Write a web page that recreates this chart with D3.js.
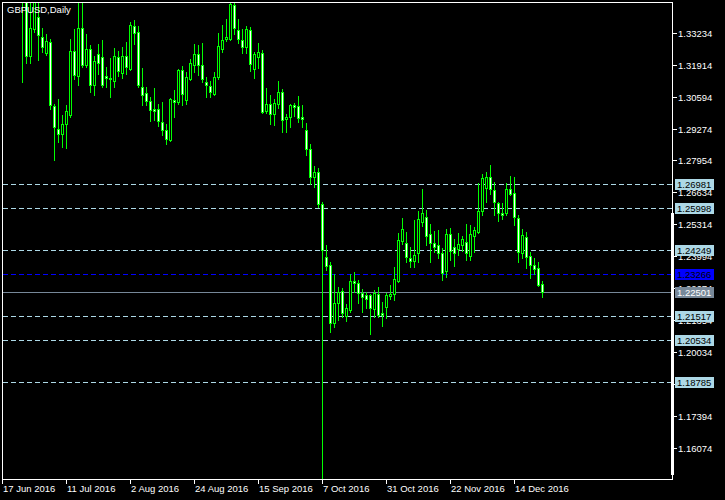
<!DOCTYPE html>
<html><head><meta charset="utf-8">
<script src="https://cdn.jsdelivr.net/npm/d3@7"></script>
<style>body{margin:0;background:#000;}svg{display:block;}</style>
</head><body>
<svg id="chart" width="725" height="500"></svg>
<script>
// GBPUSD Daily, 17 Jun 2016 .. 23 Dec 2016 (one value per trading day)
const openP = [1.4210,1.4550,1.4680,1.4690,1.4720,1.4877,1.3640,1.3226,1.3340,1.3388,
1.3306,1.3241,1.3285,1.3019,1.2927,1.2904,1.2945,1.2985,1.3247,1.3145,
1.3343,1.3189,1.3255,1.3109,1.3234,1.3223,1.3145,1.3136,1.3123,1.3223,
1.3158,1.3227,1.3175,1.3351,1.3326,1.3099,1.3076,1.3041,1.3009,1.3007,
1.2954,1.2920,1.2879,1.3047,1.3037,1.3168,1.3044,1.3133,1.3191,1.3234,
1.3191,1.3120,1.3102,1.3069,1.3140,1.3257,1.3297,1.3296,1.3437,1.3335,
1.3293,1.3264,1.3335,1.3172,1.3224,1.3238,1.3000,1.3028,1.2989,1.3028,
1.3078,1.2966,1.2975,1.3024,1.3021,1.2975,1.2920,1.2842,1.2726,1.2748,
1.2616,1.2395,1.2364,1.2123,1.2205,1.2256,1.2153,1.2178,1.2298,1.2288,
1.2249,1.2240,1.2240,1.2181,1.2244,1.2167,1.2189,1.2237,1.2243,1.2299,
1.2464,1.2456,1.2391,1.2381,1.2412,1.2543,1.2561,1.2492,1.2456,1.2446,
1.2415,1.2340,1.2492,1.2437,1.2429,1.2446,1.2460,1.2401,1.2484,1.2501,
1.2588,1.2681,1.2729,1.2674,1.2621,1.2577,1.2580,1.2676,1.2660,1.2557,
1.2412,1.2478,1.2401,1.2364,1.2350,1.2285];
const highP = [1.4355,1.4700,1.4735,1.4760,1.5018,1.5000,1.3705,1.3455,1.3520,1.3480,
1.3343,1.3319,1.3299,1.3030,1.3051,1.2982,1.3023,1.3299,1.3340,1.3480,
1.3470,1.3319,1.3274,1.3227,1.3278,1.3292,1.3182,1.3219,1.3260,1.3247,
1.3264,1.3285,1.3368,1.3375,1.3351,1.3178,1.3099,1.3058,1.3095,1.3030,
1.3037,1.2948,1.3054,1.3088,1.3175,1.3186,1.3161,1.3216,1.3278,1.3271,
1.3281,1.3140,1.3123,1.3161,1.3322,1.3356,1.3381,1.3448,1.3448,1.3380,
1.3337,1.3351,1.3346,1.3245,1.3282,1.3252,1.3094,1.3066,1.3048,1.3124,
1.3090,1.2988,1.3029,1.3032,1.3062,1.3025,1.2952,1.2865,1.2773,1.2765,
1.2625,1.2446,1.2377,1.2326,1.2274,1.2267,1.2203,1.2326,1.2336,1.2302,
1.2263,1.2253,1.2244,1.2260,1.2274,1.2212,1.2249,1.2281,1.2354,1.2497,
1.2557,1.2501,1.2439,1.2550,1.2588,1.2676,1.2591,1.2533,1.2505,1.2508,
1.2433,1.2511,1.2515,1.2470,1.2495,1.2484,1.2533,1.2529,1.2522,1.2701,
1.2740,1.2749,1.2777,1.2708,1.2625,1.2621,1.2701,1.2731,1.2726,1.2570,
1.2511,1.2501,1.2419,1.2391,1.2377,1.2299];
const lowP = [1.4180,1.4520,1.4615,1.4625,1.4645,1.3120,1.3200,1.3200,1.3325,1.3209,
1.3244,1.3230,1.3009,1.2796,1.2872,1.2851,1.2848,1.2975,1.3133,1.3106,
1.3182,1.3182,1.3078,1.3065,1.3154,1.3099,1.3099,1.3058,1.3099,1.3145,
1.3136,1.3154,1.3168,1.3278,1.3099,1.3023,1.3023,1.2957,1.2961,1.2938,
1.2902,1.2865,1.2875,1.2975,1.3030,1.3023,1.3030,1.3127,1.3161,1.3150,
1.3120,1.3058,1.3058,1.3065,1.3131,1.3244,1.3288,1.3292,1.3319,1.3282,
1.3241,1.3238,1.3166,1.3138,1.3176,1.2993,1.2992,1.2946,1.2942,1.3011,
1.2914,1.2914,1.2935,1.2979,1.2956,1.2935,1.2817,1.2700,1.2686,1.2603,
1.1400,1.2343,1.2088,1.2106,1.2137,1.2150,1.2134,1.2171,1.2253,1.2208,
1.2171,1.2185,1.2079,1.2150,1.2150,1.2112,1.2143,1.2222,1.2219,1.2295,
1.2450,1.2377,1.2357,1.2354,1.2377,1.2525,1.2446,1.2377,1.2419,1.2391,
1.2302,1.2313,1.2384,1.2360,1.2405,1.2423,1.2384,1.2384,1.2419,1.2495,
1.2570,1.2625,1.2657,1.2570,1.2547,1.2552,1.2570,1.2653,1.2529,1.2377,
1.2391,1.2350,1.2309,1.2327,1.2277,1.2230];
const closeP = [1.4345,1.4680,1.4690,1.4720,1.4877,1.3679,1.3226,1.3342,1.3460,1.3313,
1.3264,1.3288,1.3023,1.2934,1.2906,1.2945,1.3000,1.3247,1.3147,1.3343,
1.3189,1.3255,1.3109,1.3205,1.3199,1.3109,1.3136,1.3131,1.3227,1.3164,
1.3227,1.3182,1.3354,1.3323,1.3106,1.3065,1.3041,1.3003,1.3000,1.2957,
1.2920,1.2883,1.3051,1.3037,1.3168,1.3071,1.3140,1.3200,1.3234,1.3191,
1.3131,1.3106,1.3078,1.3140,1.3268,1.3292,1.3304,1.3443,1.3343,1.3296,
1.3266,1.3337,1.3193,1.3235,1.3242,1.2997,1.3028,1.2989,1.3032,1.3078,
1.2961,1.2975,1.3024,1.3015,1.2969,1.2966,1.2842,1.2727,1.2748,1.2614,
1.2426,1.2361,1.2125,1.2205,1.2253,1.2167,1.2185,1.2298,1.2288,1.2249,
1.2230,1.2222,1.2185,1.2247,1.2157,1.2157,1.2240,1.2244,1.2305,1.2467,
1.2511,1.2398,1.2381,1.2405,1.2552,1.2577,1.2483,1.2456,1.2439,1.2415,
1.2332,1.2492,1.2423,1.2415,1.2450,1.2470,1.2415,1.2492,1.2508,1.2588,
1.2722,1.2729,1.2676,1.2625,1.2580,1.2569,1.2676,1.2656,1.2563,1.2419,
1.2488,1.2395,1.2364,1.2347,1.2281,1.22501];

const timeTickBars = [0,16,32,48,64,80,96,112,128];
const timeTickLabels = ["17 Jun 2016","11 Jul 2016","2 Aug 2016","24 Aug 2016","15 Sep 2016","7 Oct 2016","31 Oct 2016","22 Nov 2016","14 Dec 2016"];
const priceTicks = [1.33234,1.31914,1.30594,1.29274,1.27954,1.26634,1.25314,1.23994,1.22674,1.21354,1.20034,1.18714,1.17394,1.16074];
const levelPrices = [1.26981,1.25998,1.24249,1.21517,1.20534,1.18785];
const bluePrice = 1.23266;
const bidPrice = 1.22501;
const titleText = "GBPUSD,Daily";

const FONT = "'Liberation Sans', Arial, sans-serif";
const svg = d3.select("#chart");
svg.append("rect").attr("width",725).attr("height",500).attr("fill","#000");

const L = 2, R = 672, T = 2, B = 479;
const y = d3.scaleLinear().domain([1.14796, 1.34502]).range([B, T]);
const x = d3.scaleLinear().domain([0, 135]).range([2, 542]);
const py = v => Math.round(y(v));

svg.append("defs").append("clipPath").attr("id","clip")
  .append("rect").attr("x",L+1).attr("y",T+1).attr("width",R-L-1).attr("height",B-T);

// level lines
const lines = svg.append("g").attr("shape-rendering","crispEdges");
levelPrices.forEach(p=>{
  lines.append("line").attr("x1",L+1).attr("x2",R).attr("y1",py(p)+0.5).attr("y2",py(p)+0.5)
    .attr("stroke","#add8e6").attr("stroke-dasharray","5,3");
});
lines.append("line").attr("x1",L+1).attr("x2",R).attr("y1",py(bluePrice)+0.5).attr("y2",py(bluePrice)+0.5)
  .attr("stroke","#0000ff").attr("stroke-dasharray","5,3");
lines.append("line").attr("x1",L+1).attr("x2",R).attr("y1",py(bidPrice)+0.5).attr("y2",py(bidPrice)+0.5)
  .attr("stroke","#778899");

// candles
const cg = svg.append("g").attr("clip-path","url(#clip)").attr("shape-rendering","crispEdges");
openP.forEach((o,i)=>{
  const h = highP[i], l = lowP[i], c = closeP[i];
  const cx = x(i);
  cg.append("line").attr("x1",cx+0.5).attr("x2",cx+0.5)
    .attr("y1",py(h)).attr("y2",py(l)+1).attr("stroke","#00ff00");
  const top = py(Math.max(o,c)), bot = py(Math.min(o,c));
  const bull = c > o;
  if (bot - top < 1) {
    cg.append("line").attr("x1",cx-1).attr("x2",cx+2).attr("y1",top+0.5).attr("y2",top+0.5).attr("stroke","#00ff00");
  } else {
    cg.append("rect").attr("x",cx-0.5).attr("y",top+0.5).attr("width",2).attr("height",bot-top)
      .attr("fill", bull ? "#000" : "#fff").attr("stroke","#00ff00");
  }
});

// frame
const fr = svg.append("g").attr("shape-rendering","crispEdges").attr("stroke","#fff");
fr.append("line").attr("x1",L).attr("x2",R+1).attr("y1",T+0.5).attr("y2",T+0.5);
fr.append("line").attr("x1",L).attr("x2",R+1).attr("y1",B+0.5).attr("y2",B+0.5);
fr.append("line").attr("x1",L+0.5).attr("x2",L+0.5).attr("y1",T).attr("y2",B+1);
fr.append("line").attr("x1",R+0.5).attr("x2",R+0.5).attr("y1",T).attr("y2",B+1);
svg.append("rect").attr("x",R-1).attr("y",213).attr("width",3).attr("height",262).attr("fill","#fff");

// price axis
const pa = svg.append("g");
priceTicks.forEach(p=>{
  const yy = py(p);
  pa.append("line").attr("x1",R).attr("x2",R+5).attr("y1",yy+0.5).attr("y2",yy+0.5)
    .attr("stroke","#fff").attr("shape-rendering","crispEdges");
  pa.append("text").attr("x",R+6).attr("y",yy+4).attr("fill","#fff")
    .attr("font-family",FONT).attr("font-size","9.5px").text(p.toFixed(5));
});

// level labels
function tag(p, bg, fg){
  const yy = py(p);
  svg.append("rect").attr("x",675).attr("y",yy-5).attr("width",39).attr("height",11).attr("fill",bg);
  svg.append("text").attr("x",677).attr("y",yy+4).attr("fill",fg)
    .attr("font-family",FONT).attr("font-size","9.5px").text(p.toFixed(5));
}
levelPrices.forEach(p=>tag(p,"#add8e6","#000"));
tag(bluePrice,"#0000ff","#000");
tag(bidPrice,"#778899","#fff");

// time axis
const ta = svg.append("g");
timeTickBars.forEach((b,k)=>{
  const xx = Math.round(x(b));
  ta.append("line").attr("x1",xx+0.5).attr("x2",xx+0.5).attr("y1",B).attr("y2",B+5)
    .attr("stroke","#fff").attr("shape-rendering","crispEdges");
  ta.append("text").attr("x",xx+1).attr("y",492).attr("fill","#fff")
    .attr("font-family",FONT).attr("font-size","9.5px").text(timeTickLabels[k]);
});

// title
svg.append("text").attr("x",7).attr("y",13).attr("fill","#fff")
  .attr("font-family",FONT).attr("font-size","9.5px").text(titleText);
</script>
</body></html>
